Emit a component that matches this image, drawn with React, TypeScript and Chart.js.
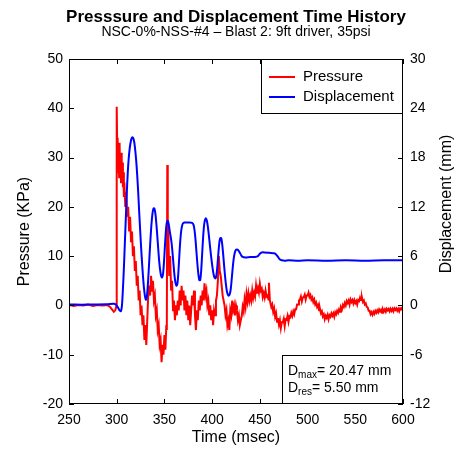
import React, { useEffect, useRef } from "react";
import { Chart, registerables } from "chart.js";

Chart.register(...registerables);

// ---- data: [time msec, pressure kPa] ----
const pressureSeries: number[][] = [
  [250, 0.1], [255, -0.1], [260, 0.1], [265, 0], [270, 0.2], [275, -0.1], [280, 0.1], [285, 0], [290, 0.1],
  [293, -0.3], [295, -0.8], [297, -1.3], [298.5, -1.0], [299.5, -0.2],
  [300, 40.3], [300.4, 34], [300.8, 28], [301.2, 33.5], [301.6, 27], [302, 32], [302.5, 26], [303, 33],
  [303.5, 27], [304, 29], [304.5, 25], [305, 31], [305.5, 26], [306, 29], [306.5, 24], [307, 27], [307.5, 22],
  [308, 25], [309, 20], [310, 23], [311, 18], [312, 20], [313, 15], [314, 18], [315, 13], [316, 15], [317, 10],
  [318, 12], [319, 7], [320, 9], [321, 4], [322, 6], [323, 1], [324, 3], [325, -2], [326, 0], [327, -4],
  [328, -2], [329, -7], [330, -4], [331, -8], [332, -3], [333, 2], [334, 4], [335, 2], [336, 6], [337, 3],
  [338, 5], [339, 1], [340, 2], [341, -2], [342, -1], [343, -5], [344, -4], [345, -8], [346, -7], [347, -11.5],
  [348, -8], [349, -10], [350, -6], [351, -9], [352, -4], [352.5, -5], [353, 28.5], [353.5, 10], [354, 16],
  [355, 6], [356, 10], [357, 3], [358, 5], [359, -1], [360, 1], [361, -3], [362, 0], [363, -2], [364, 1],
  [365, -1], [366, 3], [367, 0], [368, 4], [369, 1], [370, 3], [371, -1], [372, 2], [373, -2], [374, 1],
  [375, -3], [376, 0], [377, -4], [378, -1], [379, 2], [380, 0], [381, 3], [382, -2], [383, -5], [384, -1],
  [385, -3], [386, 1], [387, -1], [388, 2], [389, 0], [390, 3], [391, 1], [392, 4.5], [393, 2], [394, 3],
  [395, 0], [396, 1], [397, -2], [398, 0], [399, -3], [400, -1], [401, -4], [402, -1], [403, -2], [404, 1],
  [405, 2], [406, 5], [407, 10], [408, 7], [409, 6], [410, 4], [411, 2], [412, 1], [413, 0], [414, -2],
  [415, -1], [416, -4], [417, -3], [418, -5], [419, -1], [420, -2], [421, 1], [422, -1], [423, 0], [424, -2],
  [425, 0], [426, -1], [427, -3], [428, -2], [429, -4], [430, -3],
  [431, -2.2], [432, -0.3], [433, -1.2], [434, 1.2], [435, -0.2], [436, 2.3], [437, 0.8], [438, 2.4],
  [439, 0.9], [440, 2.0], [441, 1.0], [442, 3.0], [443, 1.5], [444, 2.6], [445, 1.8], [446, 4.0], [447, 2.4],
  [448, 3.5], [449, 2.6], [450, 4.4], [451, 3.0], [452, 3.4], [453, 1.7], [454, 2.5], [455, 1.6], [456, 3.0],
  [457, 1.8], [458, 2.0], [459, 1.2], [459.5, 4.6], [460.5, 1.0], [461, 0.6], [462, -0.3], [463, 0.2],
  [464, -1.3], [465, -0.6], [466, -2.3], [467, -1.6], [468, -3.3], [469, -2.6], [470, -3.9], [471, -3.0],
  [472, -4.6], [473, -3.4], [474, -3.4], [475, -2.7], [476, -4.2], [477, -2.8], [478, -2.9], [479, -2.1],
  [480, -3.3], [481, -2.2], [482, -2.4], [483, -1.5], [484, -2.1], [485, -1.2], [486, -1.8], [487, -0.8],
  [488, -0.8], [489, 0.2], [490, 0.2], [491, 1.0], [492, 1.2], [493, 1.8], [494, 0.8], [495, 1.6], [496, 1.7],
  [497, 2.2], [498, 1.2], [499, 2.0], [500, 2.0], [501, 2.6], [502, 1.7], [503, 2.1], [504, 1.2], [505, 1.6],
  [506, 0.7], [507, 1.2], [508, 0.2], [509, 0.6], [510, -0.3], [511, 0.1], [512, -1.0], [513, -0.7],
  [514, -1.6], [515, -1.2], [516, -2.2], [517, -1.8], [518, -2.8], [519, -2.1], [520, -2.5], [521, -1.9],
  [522, -2.8], [523, -2.0], [524, -2.3], [525, -1.6], [526, -2.1], [527, -1.6], [528, -2.3], [529, -1.4],
  [530, -1.8], [531, -1.1], [532, -1.5], [533, -0.8], [534, -1.3], [535, -0.4], [536, -0.8], [537, 0.1],
  [538, -0.3], [539, 0.5], [540, 0.0], [541, 0.9], [542, 0.5], [543, 1.0], [544, 0.2], [545, 1.2], [546, 0.7],
  [547, 1.1], [548, 0.4], [549, 1.1], [550, 0.5], [551, 0.9], [552, 0.2], [553, 1.1], [554, 0.9], [555, 1.6],
  [556, 1.1], [557, 1.6], [558, 0.7], [559, 1.0], [560, 0.2], [561, 0.4], [562, -0.3], [563, -0.4],
  [564, -1.1], [565, -1.1], [566, -1.8], [567, -1.4], [568, -1.9], [569, -1.3], [570, -1.7], [571, -1.1],
  [572, -1.5], [573, -1.0], [574, -1.4], [575, -0.8], [576, -1.2], [577, -0.9], [578, -1.5], [579, -0.8],
  [580, -1.2], [581, -0.8], [582, -1.3], [583, -0.7], [584, -1.0], [585, -0.7], [586, -1.2], [587, -0.7],
  [588, -1.1], [589, -0.7], [590, -1.2], [591, -0.6], [592, -0.9], [593, -0.6], [594, -1.1], [595, -0.7],
  [596, -1.2], [597, -0.6], [598, -0.8], [599, -0.5], [600, -0.8],
];

// [time msec, displacement mm]
const displacementSeries: number[][] = [
  [250, 0.1], [270, 0.1], [290, 0.15], [297, 0.2], [299, 0.1], [301, -0.2], [303, -0.6], [304.5, -0.7],
  [305.5, 0], [306.5, 2], [307.5, 4.5], [308.5, 7.5], [309.5, 10.5], [310.5, 13.5], [311.5, 16], [312.5, 17.8],
  [313.5, 19], [314.5, 19.8], [315.5, 20.3], [316.5, 20.47], [317.5, 20.3], [318.5, 19.8], [319.5, 18.8],
  [320.5, 17.5], [321.5, 15.8], [322.5, 13.8], [323.5, 11.5], [324.5, 9.3], [325.5, 7.2], [326.5, 5.3],
  [327.5, 3.6], [328.5, 2.2], [329.5, 1.2], [330.5, 0.7], [331.5, 1], [332.5, 2.3], [333.5, 4.2], [334.5, 6.3],
  [335.5, 8.3], [336.5, 10], [337.5, 11.2], [338.5, 11.8], [339.5, 11.8], [340.5, 11.2], [341.5, 10],
  [342.5, 8.5], [343.5, 6.9], [344.5, 5.4], [345.5, 4.3], [346.5, 3.6], [347.5, 3.4], [348.5, 3.8],
  [349.5, 5.2], [350.5, 7.2], [351.5, 9], [352.5, 10.1], [353.5, 10.3], [354.5, 9.9], [355.5, 9.1],
  [356.5, 8.4], [357.5, 7.6], [358.5, 6.4], [359.5, 5], [360.5, 3.7], [361.5, 2.8], [362.5, 2.4], [363.5, 2.6],
  [364.5, 3.8], [365.5, 5.8], [366.5, 7.7], [367.5, 9], [368.5, 9.7], [369.5, 10], [371, 10.1], [375, 10.1],
  [379, 10.05], [380.5, 9.8], [381.5, 9.2], [382.5, 8.1], [383.5, 6.6], [384.5, 5.1], [385.5, 3.9],
  [386.5, 3.1], [387.5, 3.1], [388.5, 4.2], [389.5, 6.2], [390.5, 8.2], [391.5, 9.7], [392.5, 10.4],
  [393.5, 10.6], [394.5, 10.3], [395.5, 9.6], [396.5, 8.6], [397.5, 7.5], [398.5, 6.4], [399.5, 5.4],
  [400.5, 4.5], [401.5, 3.8], [402.5, 3.4], [403.5, 3.3], [404.5, 3.7], [405.5, 4.8], [406.5, 6.3],
  [407.5, 7.6], [408.5, 8.2], [409.5, 8.2], [410.5, 7.5], [411.5, 6.3], [412.5, 4.9], [413.5, 3.6],
  [414.5, 2.5], [415.5, 1.7], [416.5, 1.3], [417.5, 1.2], [418.5, 1.4], [419.5, 2], [420.5, 3.2], [421.5, 4.5],
  [422.5, 5.6], [423.5, 6.3], [424.5, 6.7], [426, 6.8], [427.5, 6.7], [429, 6.4], [430.5, 6.1], [432, 5.9],
  [435, 5.85], [440, 5.9], [445, 5.9], [448, 6.0], [450, 6.3], [452, 6.45], [455, 6.45], [460, 6.4],
  [465, 6.35], [467, 6.2], [469, 5.9], [471, 5.6], [473, 5.5], [476, 5.45], [480, 5.5], [490, 5.45],
  [500, 5.5], [520, 5.45], [540, 5.5], [560, 5.45], [580, 5.5], [600, 5.5],
];

const timeTicks = [250, 300, 350, 400, 450, 500, 550, 600];
const pressureTicks = [-20, -10, 0, 10, 20, 30, 40, 50];
const dispTicks = [-12, -6, 0, 6, 12, 18, 24, 30];

const titleText = "Presssure and Displacement Time History";
const subtitleText = "NSC-0%-NSS-#4 \u2013 Blast 2: 9ft driver, 35psi";
const xTitle = "Time (msec)";
const yTitle = "Pressure (KPa)";
const y1Title = "Displacement (mm)";
const seriesNames = ["Pressure", "Displacement"];
const dMax = "20.47";
const dRes = "5.50";

const FONT = '"Liberation Sans", Arial, Helvetica, sans-serif';

const framePlugin = {
  id: "framePlugin",
  afterDraw(chart: any) {
    const ctx = chart.ctx as CanvasRenderingContext2D;
    const { left, right, top, bottom } = chart.chartArea;
    const xs = chart.scales.x;
    const ys = chart.scales.y;
    const y1s = chart.scales.y1;
    ctx.save();
    ctx.strokeStyle = "#000";
    ctx.lineWidth = 1;
    ctx.strokeRect(Math.round(left) + 0.5, Math.round(top) + 0.5, Math.round(right - left) - 1, Math.round(bottom - top) - 1);
    const tl = 5;
    ctx.beginPath();
    timeTicks.forEach((t) => {
      const px = Math.round(xs.getPixelForValue(t)) + 0.5;
      ctx.moveTo(px, bottom);
      ctx.lineTo(px, bottom - tl);
      ctx.moveTo(px, top);
      ctx.lineTo(px, top + tl);
    });
    pressureTicks.forEach((v) => {
      const py = Math.round(ys.getPixelForValue(v)) + 0.5;
      ctx.moveTo(left, py);
      ctx.lineTo(left + tl, py);
    });
    dispTicks.forEach((v) => {
      const py = Math.round(y1s.getPixelForValue(v)) + 0.5;
      ctx.moveTo(right, py);
      ctx.lineTo(right - tl, py);
    });
    ctx.stroke();

    ctx.fillStyle = "#000";
    ctx.textAlign = "center";
    ctx.textBaseline = "middle";
    const cx = (left + right) / 2;
    ctx.font = `bold 17px ${FONT}`;
    ctx.fillText(titleText, cx, 17);
    ctx.font = `14px ${FONT}`;
    ctx.fillText(subtitleText, cx, 32);

    ctx.font = `16px ${FONT}`;
    ctx.fillText(xTitle, cx, 438);
    ctx.save();
    ctx.translate(25, (top + bottom) / 2);
    ctx.rotate(-Math.PI / 2);
    ctx.fillText(yTitle, 0, 0);
    ctx.restore();
    ctx.save();
    ctx.translate(447, 204);
    ctx.rotate(-Math.PI / 2);
    ctx.fillText(y1Title, 0, 0);
    ctx.restore();

    // legend
    const lx = 261, ly = Math.round(top), lw = Math.round(right) - 261, lh = 55;
    ctx.fillStyle = "#fff";
    ctx.fillRect(lx, ly, lw, lh);
    ctx.strokeStyle = "#000";
    ctx.strokeRect(lx + 0.5, ly + 0.5, lw - 1, lh - 1);
    const colors = ["#ff0000", "#0000ff"];
    const rows = [77, 97];
    ctx.lineWidth = 2;
    ctx.textAlign = "left";
    ctx.font = `15px ${FONT}`;
    seriesNames.forEach((name, i) => {
      ctx.strokeStyle = colors[i];
      ctx.beginPath();
      ctx.moveTo(269, rows[i]);
      ctx.lineTo(295, rows[i]);
      ctx.stroke();
      ctx.fillStyle = "#000";
      ctx.fillText(name, 303, rows[i]);
    });

    // annotation box
    const ax = 282, ay = 355, aw = Math.round(right) - 282, ah = Math.round(bottom) - 355;
    ctx.fillStyle = "#fff";
    ctx.fillRect(ax, ay, aw, ah);
    ctx.lineWidth = 1;
    ctx.strokeStyle = "#000";
    ctx.strokeRect(ax + 0.5, ay + 0.5, aw - 1, ah - 1);
    const drawSub = (main: string, sub: string, rest: string, y: number) => {
      let x = 288;
      ctx.fillStyle = "#000";
      ctx.textAlign = "left";
      ctx.font = `14px ${FONT}`;
      ctx.fillText(main, x, y);
      x += ctx.measureText(main).width;
      ctx.font = `10px ${FONT}`;
      ctx.fillText(sub, x, y + 4);
      x += ctx.measureText(sub).width;
      ctx.font = `14px ${FONT}`;
      ctx.fillText(rest, x, y);
    };
    drawSub("D", "max", `= ${dMax} mm`, 371);
    drawSub("D", "res", `= ${dRes} mm`, 388);
    ctx.restore();
  },
};

export default function App() {
  const ref = useRef<HTMLCanvasElement | null>(null);
  useEffect(() => {
    if (!ref.current) return;
    const tickFont = { family: FONT, size: 14 };
    const chart = new Chart(ref.current, {
      type: "line",
      data: {
        datasets: [
          {
            label: seriesNames[0],
            data: pressureSeries.map(([t, p]) => ({ x: t, y: p })),
            borderColor: "#ff0000",
            backgroundColor: "#ff0000",
            borderWidth: 2,
            pointRadius: 0,
            tension: 0,
            yAxisID: "y",
            order: 2,
          },
          {
            label: seriesNames[1],
            data: displacementSeries.map(([t, d]) => ({ x: t, y: d })),
            borderColor: "#0000ff",
            backgroundColor: "#0000ff",
            borderWidth: 2,
            pointRadius: 0,
            tension: 0.3,
            yAxisID: "y1",
            order: 1,
          },
        ],
      },
      options: {
        animation: false,
        responsive: false,
        events: [],
        layout: { padding: { top: 59, left: 0, right: 0, bottom: 0 } },
        plugins: { legend: { display: false }, tooltip: { enabled: false }, title: { display: false } },
        scales: {
          x: {
            type: "linear",
            min: 250,
            max: 600,
            position: "bottom",
            grid: { display: false, drawTicks: false },
            border: { display: false },
            ticks: { stepSize: 50, font: tickFont, color: "#000", padding: 8, maxRotation: 0, autoSkip: false },
            afterFit: (s: any) => { s.height = 48; },
          },
          y: {
            type: "linear",
            position: "left",
            min: -20,
            max: 50,
            grid: { display: false, drawTicks: false },
            border: { display: false },
            ticks: { stepSize: 10, font: tickFont, color: "#000", padding: 6 },
            afterFit: (s: any) => { s.width = 69; },
          },
          y1: {
            type: "linear",
            position: "right",
            min: -12,
            max: 30,
            grid: { display: false, drawTicks: false },
            border: { display: false },
            ticks: { stepSize: 6, font: tickFont, color: "#000", padding: 7 },
            afterFit: (s: any) => { s.width = 57; },
          },
        },
      } as any,
      plugins: [framePlugin],
    });
    return () => chart.destroy();
  }, []);
  return (
    <canvas
      ref={ref}
      width={460}
      height={452}
      style={{ position: "absolute", left: 0, top: 0, width: 460, height: 452, display: "block", background: "#fff" }}
    />
  );
}
